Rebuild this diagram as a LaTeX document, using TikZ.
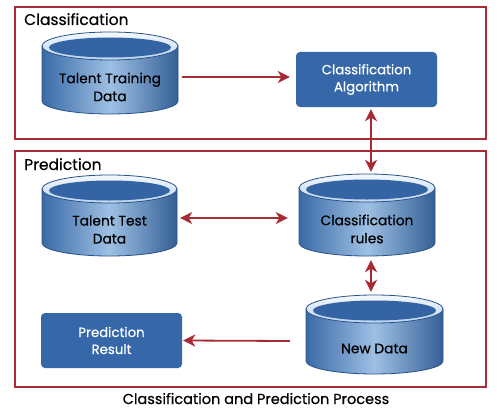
\documentclass[tikz,border=0pt]{standalone}
\usepackage{fontspec}
\setmainfont{Poppins}[FakeBold=0.5]
\usetikzlibrary{arrows.meta,calc}
\definecolor{frameRed}{RGB}{168,42,52}
\definecolor{boxBlue}{RGB}{54,103,168}
\definecolor{cylDark}{RGB}{58,106,166}
\definecolor{cylLight}{RGB}{158,192,228}
\definecolor{cylLine}{RGB}{40,82,138}
\definecolor{cylRim}{RGB}{186,212,238}
\definecolor{cylTop}{RGB}{52,100,164}
\tikzset{
  frame/.style={draw=frameRed,line width=1.8pt,inner sep=0pt},
  title/.style={font=\fontsize{15.5}{18}\selectfont,anchor=base west,inner sep=0pt},
  bluebox/.style={fill=boxBlue,rounded corners=4pt,text=white,align=center,
    font=\fontsize{13.3}{17}\selectfont,inner sep=0pt},
  cyltext/.style={align=center,font=\fontsize{13.8}{18}\selectfont,inner sep=0pt},
  cylbody/.style={left color=cylDark,right color=cylDark!90!black,middle color=cylLight,draw=cylLine,line width=0.8pt},
  arr/.style={draw=frameRed,line width=1.8pt,-{Stealth[length=12pt,width=12pt,inset=3.5pt]}},
  darr/.style={draw=frameRed,line width=1.8pt,{Stealth[length=12pt,width=12pt,inset=3.5pt]}-{Stealth[length=12pt,width=12pt,inset=3.5pt]}},
}
% #1 name, #2 x1, #3 x2, #4 ytop, #5 ybottom, #6 text
\newcommand\dbcyl[6]{%
  \pgfmathsetmacro\cylcx{(#2+#3)/2}%
  \pgfmathsetmacro\cylrx{(#3-#2)/2}%
  \pgfmathsetmacro\cylcy{(#4+28+#5)/2}%
  \shade[cylbody] (#2,#4+14) -- (#2,#5-13) arc[start angle=180,end angle=0,x radius=\cylrx,y radius=13] -- (#3,#4+14) -- cycle;
  \shade[top color=white!85!cylRim,bottom color=cylRim,draw=cylLine,line width=0.8pt] (\cylcx,#4+14) ellipse[x radius=\cylrx,y radius=14];
  \fill[cylTop] (\cylcx,#4+15.5) ellipse[x radius=\cylrx-7,y radius=10];
  \node[cyltext,minimum width={(#3-#2)*1pt},minimum height={(#5-#4-28)*1pt}] (#1) at (\cylcx,\cylcy) {#6};
}
\begin{document}
\begin{tikzpicture}[x=1pt,y=-1pt]
\path[use as bounding box,fill=white] (0,0) rectangle (500,412);
% frames
\node[frame,minimum width=471pt,minimum height=132pt] (clsframe) at (250.5,73) {};
\node[frame,minimum width=471pt,minimum height=236pt] (preframe) at (250.5,269) {};
\node[title] (clstitle) at (24,25) {Classification};
\node[title] (pretitle) at (24,170) {Prediction};
% cylinders
\dbcyl{c1}{42}{178}{32}{114}{Talent Training\\Data}
\dbcyl{c2}{42}{177}{175}{256}{Talent Test\\Data}
\dbcyl{c3}{299}{435}{174}{256}{Classification\\rules}
\dbcyl{c4}{306}{443}{295}{374}{New Data}
% boxes
\node[bluebox,minimum width=141pt,minimum height=55pt] (algo) at (366.5,79.5) {Classification\\Algorithm};
\node[bluebox,minimum width=141pt,minimum height=55pt] (result) at (111.5,340.5) {Prediction\\Result};
% connectors
\draw[arr] ([xshift=4pt,yshift=10pt]c1.east) -- ([xshift=-6pt,yshift=2.5pt]algo.west);
\draw[darr] ([xshift=4.5pt,yshift=-2pt]algo.south) -- ([xshift=4pt,yshift=30pt]c3.north);
\draw[darr] ([xshift=3pt,yshift=11.5pt]c2.east) -- ([xshift=-11pt,yshift=11pt]c3.west);
\draw[darr] ([xshift=4pt,yshift=-4pt]c3.south) -- ([xshift=-3.5pt,yshift=31pt]c4.north);
\draw[arr] ([xshift=-16pt,yshift=7.5pt]c4.west) -- ([xshift=1pt]result.east);
% caption
\node[font=\fontsize{14.5}{17}\selectfont,anchor=base,inner sep=0pt] (caption) at (256,404) {Classification and Prediction Process};
\end{tikzpicture}
\end{document}
